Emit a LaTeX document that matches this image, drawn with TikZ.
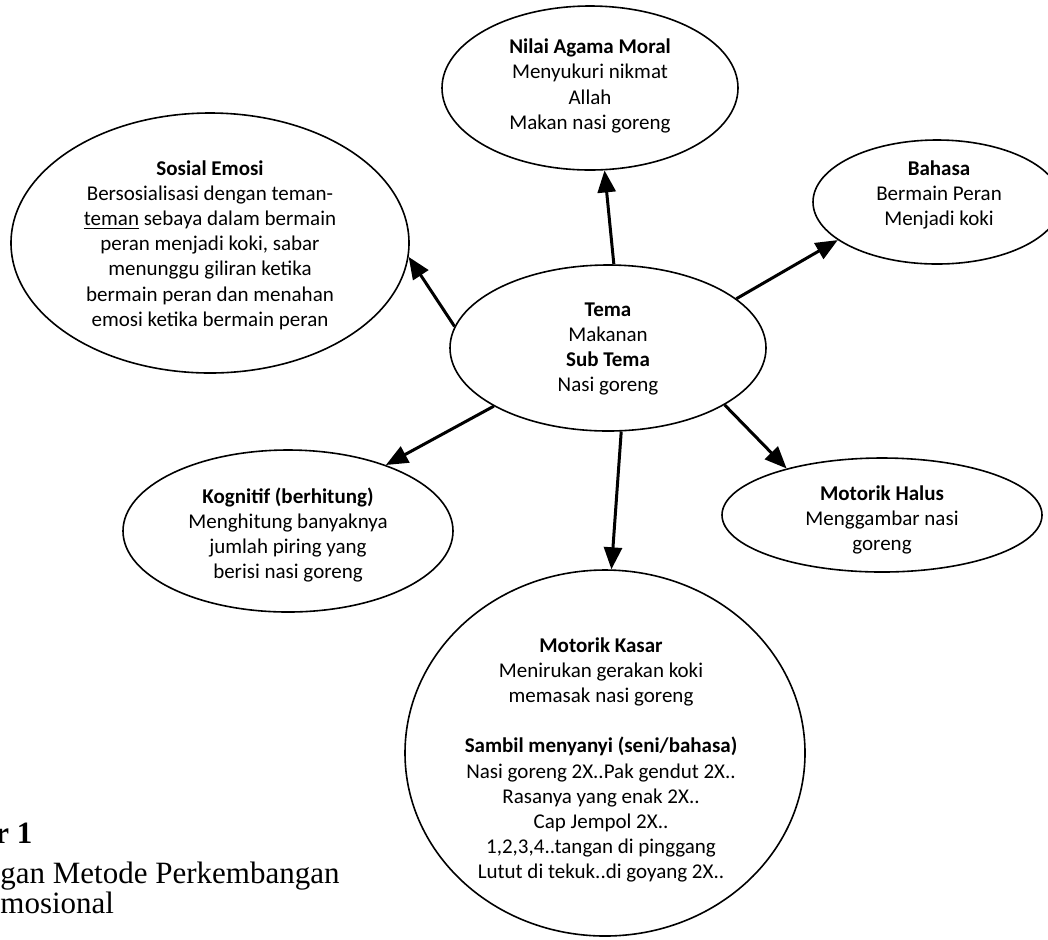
\documentclass[tikz,border=0pt]{standalone}
\usepackage{fontspec}
\setmainfont{Carlito}
\newfontfamily\capfont{Liberation Serif}
\usetikzlibrary{shapes.geometric,arrows.meta}
\tikzset{
  bub/.style={draw, ellipse, line width=0.8pt, inner sep=0pt},
  lbl/.style={align=center, inner sep=0pt, font=\fontsize{10.5}{12.6}\selectfont},
  arr/.style={line width=1.5pt, -{Triangle[length=11pt,width=9pt]}},
  captxt/.style={anchor=base west, inner sep=0pt, font=\capfont\fontsize{15.5}{18}\selectfont},
}
\begin{document}
\begin{tikzpicture}[x=0.5pt,y=-0.5pt]
\useasboundingbox (0,0) rectangle (1048,939);
% ellipses
\node[bub, minimum width=148pt, minimum height=82pt] (nilai) at (590,88) {};
\node[bub, minimum width=199pt, minimum height=130pt] (sosial) at (210,243) {};
\node[bub, minimum width=124pt, minimum height=62pt] (bahasa) at (937,202) {};
\node[bub, minimum width=158pt, minimum height=83pt] (tema) at (608,348) {};
\node[bub, minimum width=165pt, minimum height=81pt] (kog) at (288,531) {};
\node[bub, minimum width=160pt, minimum height=57pt] (halus) at (882,515) {};
\node[bub, minimum width=200pt, minimum height=183pt] (kasar) at (605,753) {};
% texts
\node[lbl] (tnilai) at (590,86) {\textbf{Nilai Agama Moral}\\Menyukuri nikmat\\Allah\\Makan nasi goreng};
\node[lbl] (tsosial) at (210,245) {\textbf{Sosial Emosi}\\Bersosialisasi dengan teman-\\\underline{teman} sebaya dalam bermain\\peran menjadi koki, sabar\\menunggu giliran ketika\\bermain peran dan menahan\\emosi ketika bermain peran};
\node[lbl] (tbahasa) at (939,195) {\textbf{Bahasa}\\Bermain Peran\\Menjadi koki};
\node[lbl] (ttema) at (608,349) {\textbf{Tema}\\Makanan\\\textbf{Sub Tema}\\Nasi goreng};
\node[lbl] (tkog) at (288,535) {\textbf{Kognitif (berhitung)}\\Menghitung banyaknya\\jumlah piring yang\\berisi nasi goreng};
\node[lbl] (thalus) at (882,520) {\textbf{Motorik Halus}\\Menggambar nasi\\goreng};
\node[lbl] (tkasar) at (601,760) {\textbf{Motorik Kasar}\\Menirukan gerakan koki\\memasak nasi goreng\\[12.6pt]\textbf{Sambil menyanyi (seni/bahasa)}\\Nasi goreng 2X..Pak gendut 2X..\\Rasanya yang enak 2X..\\Cap Jempol 2X..\\1,2,3,4..tangan di pinggang\\Lutut di tekuk..di goyang 2X..};
% arrows
\draw[arr] (tema.86.6) -- (nilai.-80);
\draw[arr] (tema.172.2) -- (sosial.-4.6);
\draw[arr] (tema.21.1) -- (bahasa.201.4);
\draw[arr] (tema.207) -- (kog.34.8);
\draw[arr] (tema.-26.4) -- (halus.154.4);
\draw[arr] (tema.-81.8) -- (kasar.88.4);
% caption fragment
\node[captxt, font=\capfont\bfseries\fontsize{15.5}{18}\selectfont] (cap1) at (-5,843) {r 1};
\node[captxt] (cap2) at (0,883) {gan Metode Perkembangan};
\node[captxt] (cap3) at (0,913) {mosional};
\end{tikzpicture}
\end{document}
